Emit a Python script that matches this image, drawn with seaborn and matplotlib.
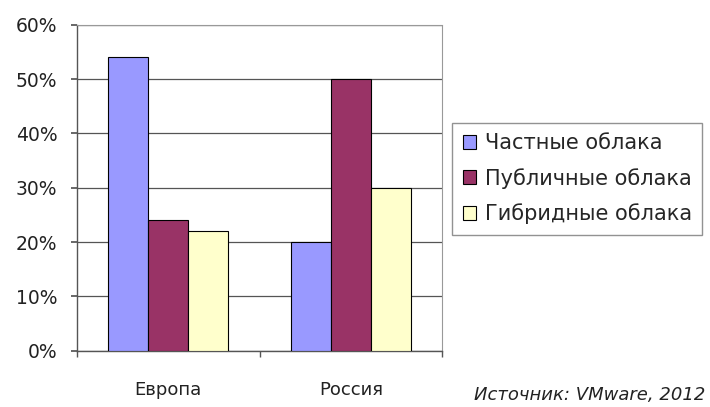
import numpy as np
import pandas as pd
import seaborn as sns
from matplotlib import pyplot as plt
from matplotlib.ticker import PercentFormatter, FixedLocator

# data
regions = ["Европа", "Россия"]
cloud_types = ["Частные облака", "Публичные облака", "Гибридные облака"]
private_share = [54, 20]
public_share = [24, 50]
hybrid_share = [22, 30]
source_note = "Источник: VMware, 2012"

colors = ["#9999FF", "#993366", "#FFFFCC"]

df = pd.DataFrame({
    "region": regions * 3,
    "type": [cloud_types[0]] * 2 + [cloud_types[1]] * 2 + [cloud_types[2]] * 2,
    "share": private_share + public_share + hybrid_share,
})

sns.set_theme(style="white")
plt.rcParams["font.family"] = ["DejaVu Sans"]

fig = plt.figure(figsize=(7.10, 4.07), dpi=100)
ax = fig.add_axes([0.108, 0.138, 0.515, 0.801])

sns.barplot(data=df, x="region", y="share", hue="type", order=regions,
            hue_order=cloud_types, palette=colors, width=0.66,
            edgecolor="black", linewidth=0.8, saturation=1, ax=ax, zorder=3)

ax.set_ylim(0, 60)
ax.set_xlim(-0.5, 1.5)
ax.set_yticks(np.arange(0, 61, 10))
ax.yaxis.set_major_formatter(PercentFormatter(decimals=0))
ax.grid(axis="y", color="#555555", linewidth=0.9, zorder=0)
ax.set_xlabel("")
ax.set_ylabel("")

ax.xaxis.set_minor_locator(FixedLocator([-0.5, 0.5, 1.5]))
ax.tick_params(axis="x", which="major", length=0, pad=22, labelsize=13, labelcolor="#222222")
ax.tick_params(axis="x", which="minor", length=4, direction="out", color="#555555", bottom=True)
ax.tick_params(axis="y", length=4, direction="out", color="#555555", left=True,
               labelsize=13.5, pad=10, labelcolor="#222222")

for side in ["left", "bottom"]:
    ax.spines[side].set_color("#555555")
    ax.spines[side].set_linewidth(1.0)
for side in ["top", "right"]:
    ax.spines[side].set_color("#999999")
    ax.spines[side].set_linestyle((0, (1, 1)))
    ax.spines[side].set_linewidth(0.8)

handles, labels = ax.get_legend_handles_labels()
ax.legend_.remove()
fig.legend(handles, labels, loc="upper left", bbox_to_anchor=(0.637, 0.698),
           frameon=True, fancybox=False, edgecolor="#777777", fontsize=15,
           handlelength=0.65, handleheight=0.65, handletextpad=0.4,
           labelspacing=0.7, borderpad=0.5, borderaxespad=0)

fig.text(0.993, 0.008, source_note, ha="right", va="bottom",
         style="italic", fontsize=13, color="#222222")

fig.savefig("out.png", dpi=100)
